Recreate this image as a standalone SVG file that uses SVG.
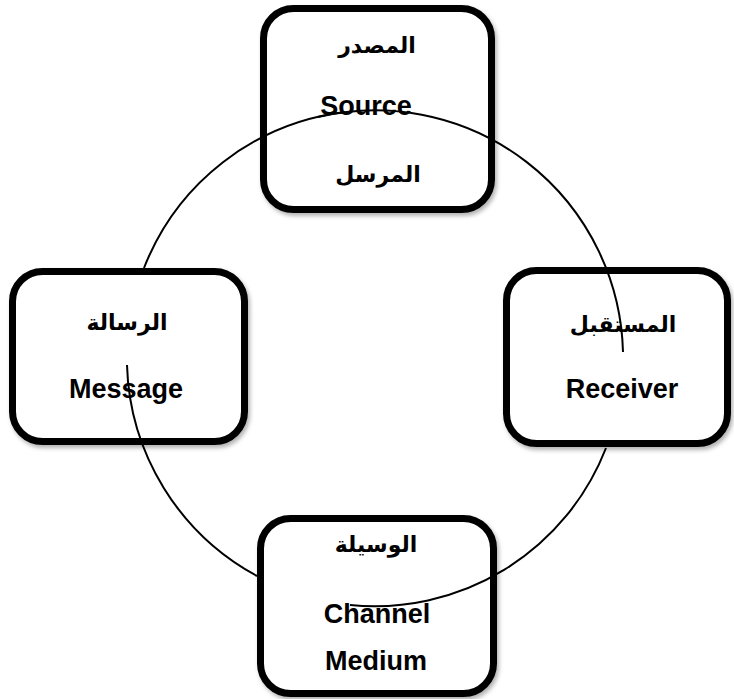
<svg xmlns="http://www.w3.org/2000/svg" width="734" height="699" viewBox="0 0 734 699">
<defs>
<filter id="sh" x="-10%" y="-10%" width="125%" height="125%">
<feDropShadow dx="2" dy="3" stdDeviation="2" flood-color="#000" flood-opacity="0.3"/>
</filter>
<style>
.box{fill:#fff;stroke:#000;stroke-width:7;filter:url(#sh)}
.en{font-family:"Liberation Sans",Arial,sans-serif;font-weight:bold;font-size:27px;fill:#000;text-anchor:middle}
.ar{font-family:"DejaVu Sans","Noto Sans",sans-serif;font-weight:bold;font-size:22px;fill:#000;text-anchor:middle}
.arc{fill:none;stroke:#000;stroke-width:2}
</style>
</defs>
<rect width="734" height="699" fill="#fff"/>
<g id="source">
<rect class="box" x="263.5" y="8.5" width="228" height="201" rx="30"/>
<text class="ar" x="377" y="53" direction="rtl">المصدر</text>
<text class="en" x="366" y="115">Source</text>
<text class="ar" x="378" y="182" direction="rtl">المرسل</text>
</g>
<g id="message">
<rect class="box" x="12.5" y="271.5" width="232" height="170" rx="30"/>
<text class="ar" x="127" y="330" direction="rtl">الرسالة</text>
<text class="en" x="126" y="398">Message</text>
</g>
<g id="receiver">
<rect class="box" x="506.5" y="270.5" width="221" height="173" rx="30"/>
<text class="ar" x="623" y="332" direction="rtl">المستقبل</text>
<text class="en" x="622" y="398">Receiver</text>
</g>
<g id="channel">
<rect class="box" x="260.5" y="518.5" width="233" height="175" rx="30"/>
<text class="ar" x="376" y="552" direction="rtl">الوسيلة</text>
<text class="en" x="377" y="623">Channel</text>
<text class="en" x="376" y="670">Medium</text>
</g>
<g id="connectors">
<path class="arc" d="M 318 117 A 248 248 0 0 1 623 352"/>
<path class="arc" d="M 606 448 A 248 248 0 0 1 350 605"/>
<path class="arc" d="M 257 576 A 248 248 0 0 1 127 365"/>
<path class="arc" d="M 144 268 A 248 248 0 0 1 345 112"/>
</g>
</svg>
